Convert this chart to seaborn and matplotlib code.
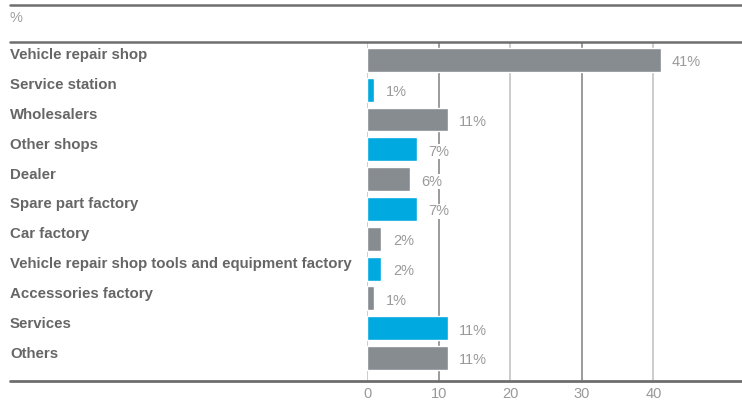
import numpy as np
import pandas as pd
import seaborn as sns
import matplotlib.pyplot as plt
from matplotlib import transforms
from matplotlib.lines import Line2D

categories = [
    "Vehicle repair shop",
    "Service station",
    "Wholesalers",
    "Other shops",
    "Dealer",
    "Spare part factory",
    "Car factory",
    "Vehicle repair shop tools and equipment factory",
    "Accessories factory",
    "Services",
    "Others",
]
values = [41, 1, 11.3, 7, 6, 7, 2, 2, 1, 11.3, 11.3]
labels = ["41%", "1%", "11%", "7%", "6%", "7%", "2%", "2%", "1%", "11%", "11%"]
ticks = [0, 10, 20, 30, 40]

GRAY = "#878c91"
BLUE = "#00a9e0"
colors = [GRAY if i % 2 == 0 else BLUE for i in range(len(categories))]

W, H = 742, 416
sns.set_style("white")
plt.rcParams["font.family"] = ["Liberation Sans", "DejaVu Sans"]

fig = plt.figure(figsize=(W / 100, H / 100), dpi=100)
# axes: x from px 367 to 742, y from px 42 to 381
ax = fig.add_axes([367 / W, 1 - 381 / H, (742 - 367) / W, (381 - 42) / H])

df = pd.DataFrame({"cat": categories, "val": values})
sns.barplot(data=df, x="val", y="cat", hue="cat", palette=colors,
            legend=False, width=0.8, saturation=1, ax=ax, zorder=2)

ax.set_xlim(0, (742 - 367) / 7.16)
ax.set_ylim(10.77, -0.6)
for s in ax.spines.values():
    s.set_visible(False)
ax.set_yticks([])
ax.set_xticks(ticks)
ax.set_xticklabels([str(t) for t in ticks], color="#999999", fontsize=10.5)
ax.tick_params(axis="x", length=0, pad=4)
ax.set_xlabel("")
ax.set_ylabel("")

for t in ticks:
    c = "#939393" if t in (10, 30) else "#c8c8c8"
    ax.axvline(t, color=c, lw=1.3, zorder=1)

for i, (v, lab) in enumerate(zip(values, labels)):
    ax.text(v + 1.6, i + 0.08, lab, ha="left", va="center", color="#9a9a9a",
            fontsize=10.5, zorder=3,
            bbox=dict(facecolor="white", edgecolor="none", pad=0.5))

blend = transforms.blended_transform_factory(fig.transFigure, ax.transData)
for i, cat in enumerate(categories):
    ax.text(10 / W, i - 0.15, cat, transform=blend, ha="left", va="center",
            fontsize=10.8, fontweight="bold", color="#666666")

fig.text(10 / W, 1 - 18 / H, "%", ha="left", va="center", fontsize=10.5,
         color="#a0a0a0")

for y, lw in [(5, 1.8), (42, 1.8), (381, 2.0)]:
    fig.add_artist(Line2D([10 / W, 1], [1 - y / H, 1 - y / H],
                          transform=fig.transFigure, color="#6e6e6e", lw=lw))

fig.savefig("out.png", dpi=100)
